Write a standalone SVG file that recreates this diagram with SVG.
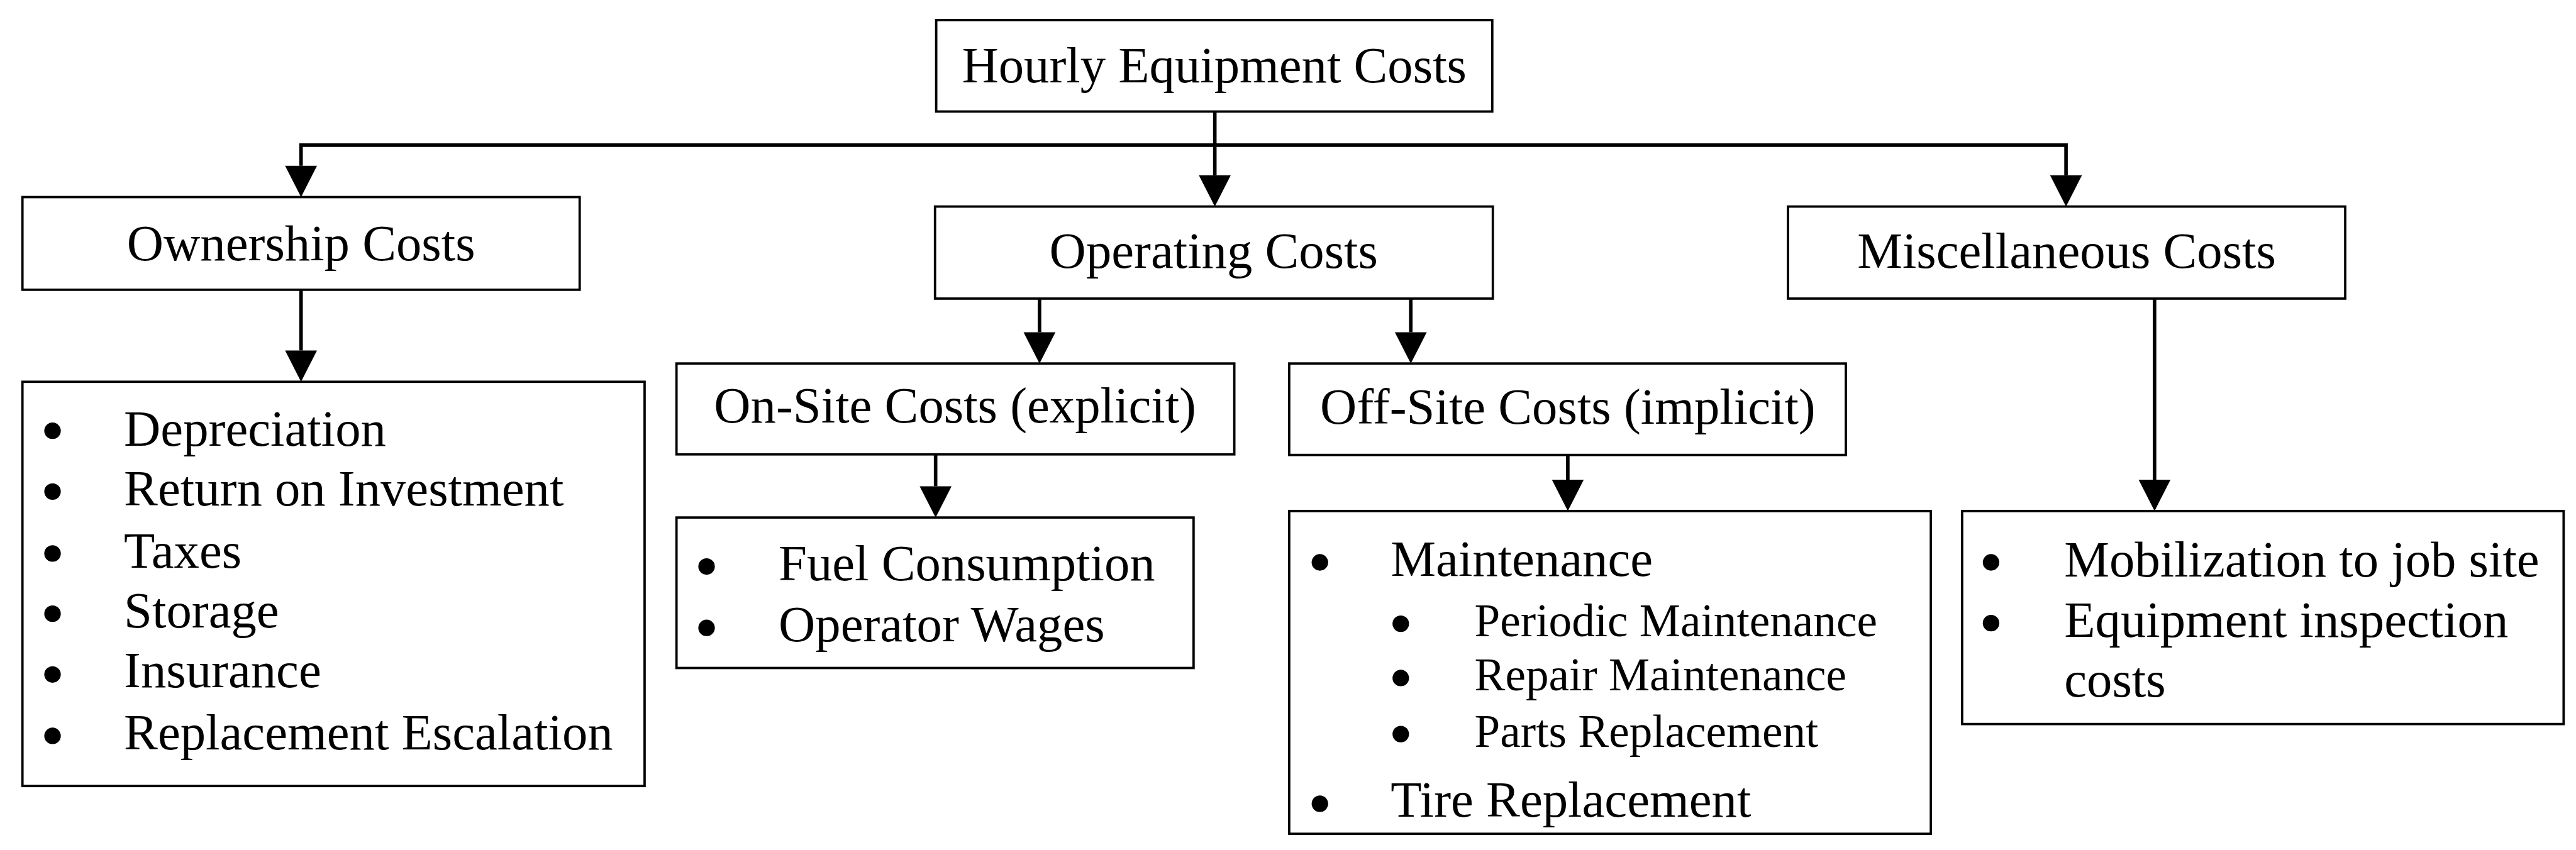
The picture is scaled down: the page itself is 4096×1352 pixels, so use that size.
<svg xmlns="http://www.w3.org/2000/svg" width="4096" height="1352" viewBox="0 0 4096 1352">
<defs>
<style>
.box{fill:#fff;stroke:#000;stroke-width:4}
.t{font-family:"Liberation Serif","Times New Roman",serif;font-size:86px;fill:#000}
.c{text-anchor:middle}
.s{font-size:78px}
.b{fill:#000}
.con{fill:none;stroke:#000;stroke-width:6;stroke-linejoin:miter}
</style>
<marker id="ah" markerUnits="userSpaceOnUse" markerWidth="54" markerHeight="56" refX="0" refY="27" orient="auto" overflow="visible">
<path d="M0,0 L53,27 L0,54 Z" fill="#000"/>
</marker>
</defs>
<rect width="4096" height="1352" fill="#fff"/>
<g transform="scale(0.9386)">
<g id="connectors">
<path class="con" d="M2058,246 H510 V281" marker-end="url(#ah)"/>
<path class="con" d="M2058,246 H3500 V297" marker-end="url(#ah)"/>
<path class="con" d="M2058,189 V297" marker-end="url(#ah)"/>
<path class="con" d="M510,491 V594" marker-end="url(#ah)"/>
<path class="con" d="M1761,506 V563" marker-end="url(#ah)"/>
<path class="con" d="M2390,506 V563" marker-end="url(#ah)"/>
<path class="con" d="M1585,770 V824" marker-end="url(#ah)"/>
<path class="con" d="M2656,771 V813" marker-end="url(#ah)"/>
<path class="con" d="M3650,506 V813" marker-end="url(#ah)"/>
</g>
<g id="hourly">
<rect class="box" x="1586" y="34" width="942" height="155"/>
<text class="t c" x="2057" y="140">Hourly Equipment Costs</text>
</g>
<g id="ownership">
<rect class="box" x="38" y="334" width="944" height="157"/>
<text class="t c" x="510" y="441">Ownership Costs</text>
</g>
<g id="operating">
<rect class="box" x="1584" y="350" width="945" height="156"/>
<text class="t c" x="2056" y="454">Operating Costs</text>
</g>
<g id="misc">
<rect class="box" x="3029" y="350" width="944" height="156"/>
<text class="t c" x="3501" y="454">Miscellaneous Costs</text>
</g>
<g id="onsite">
<rect class="box" x="1146" y="616" width="945" height="154"/>
<text class="t c" x="1618" y="716">On-Site Costs (explicit)</text>
</g>
<g id="offsite">
<rect class="box" x="2184" y="616" width="943" height="155"/>
<text class="t c" x="2656" y="718">Off-Site Costs (implicit)</text>
</g>
<g id="ownership-list">
<rect class="box" x="38" y="647" width="1054" height="685"/>
<circle class="b" cx="89" cy="730" r="14"/>
<circle class="b" cx="89" cy="833" r="14"/>
<circle class="b" cx="89" cy="938" r="14"/>
<circle class="b" cx="89" cy="1040" r="14"/>
<circle class="b" cx="89" cy="1143" r="14"/>
<circle class="b" cx="89" cy="1247" r="14"/>
<text class="t" x="210" y="755">Depreciation</text>
<text class="t" x="210" y="857">Return on Investment</text>
<text class="t" x="210" y="962">Taxes</text>
<text class="t" x="210" y="1063">Storage</text>
<text class="t" x="210" y="1165">Insurance</text>
<text class="t" x="210" y="1270">Replacement Escalation</text>
</g>
<g id="onsite-list">
<rect class="box" x="1146" y="877" width="876" height="255"/>
<circle class="b" cx="1197" cy="960" r="14"/>
<circle class="b" cx="1197" cy="1064" r="14"/>
<text class="t" x="1319" y="983">Fuel Consumption</text>
<text class="t" x="1319" y="1087">Operator Wages</text>
</g>
<g id="offsite-list">
<rect class="box" x="2184" y="866" width="1087" height="547"/>
<circle class="b" cx="2236" cy="953" r="14"/>
<text class="t" x="2356" y="976">Maintenance</text>
<circle class="b" cx="2373" cy="1057" r="14"/>
<circle class="b" cx="2373" cy="1149" r="14"/>
<circle class="b" cx="2373" cy="1244" r="14"/>
<text class="t s" x="2498" y="1078">Periodic Maintenance</text>
<text class="t s" x="2498" y="1170">Repair Maintenance</text>
<text class="t s" x="2498" y="1266">Parts Replacement</text>
<circle class="b" cx="2236" cy="1362" r="14"/>
<text class="t" x="2356" y="1384">Tire Replacement</text>
</g>
<g id="misc-list">
<rect class="box" x="3324" y="866" width="1019" height="361"/>
<circle class="b" cx="3373" cy="953" r="14"/>
<circle class="b" cx="3373" cy="1056" r="14"/>
<text class="t" x="3497" y="977">Mobilization to job site</text>
<text class="t" x="3497" y="1079">Equipment inspection</text>
<text class="t" x="3497" y="1180">costs</text>
</g>
</g>
</svg>
